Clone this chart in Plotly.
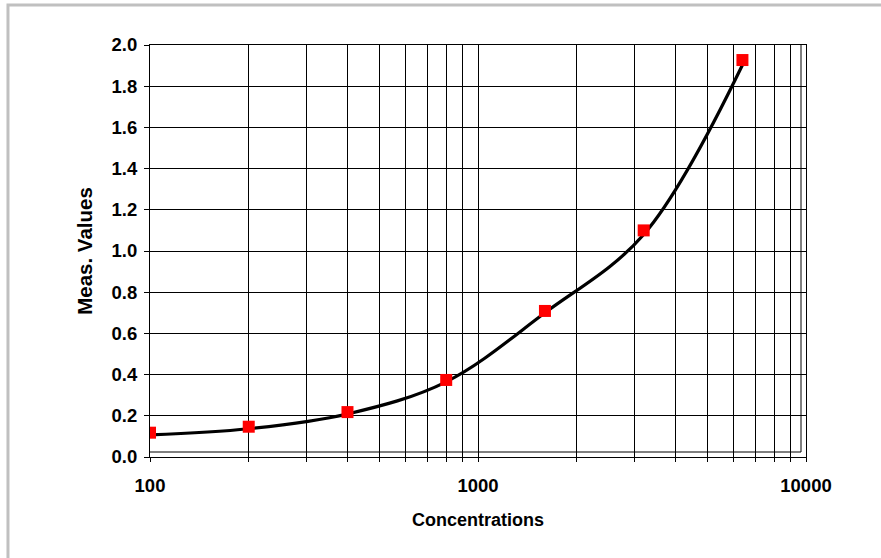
import plotly.graph_objects as go

# Standard concentrations and measured responses
concentrations = [100, 200, 400, 800, 1600, 3200, 6400]
meas_values = [0.118, 0.147, 0.218, 0.374, 0.709, 1.100, 1.927]

# Calibration curve values at the same concentrations
fit_values = [0.107, 0.137, 0.209, 0.365, 0.700, 1.080, 1.903]

# Log-axis gridline positions and their labels
x_tickvals = [100, 200, 300, 400, 500, 600, 700, 800, 900,
              1000, 2000, 3000, 4000, 5000, 6000, 7000, 8000, 9000, 10000]
x_ticktext = ["100", "", "", "", "", "", "", "", "",
              "1000", "", "", "", "", "", "", "", "", "10000"]
y_tickvals = [0.0, 0.2, 0.4, 0.6, 0.8, 1.0, 1.2, 1.4, 1.6, 1.8, 2.0]

FONT = "Liberation Sans, Arial, sans-serif"

fig = go.Figure()

fig.add_trace(go.Scatter(
    x=concentrations, y=fit_values,
    mode="lines",
    line=dict(color="black", width=3.2, shape="spline", smoothing=1.0),
    hoverinfo="skip",
    showlegend=False,
))

fig.add_trace(go.Scatter(
    x=concentrations, y=meas_values,
    mode="markers",
    marker=dict(symbol="square", size=12, color="#ff0000", line=dict(width=0)),
    cliponaxis=True,
    showlegend=False,
))

axis_common = dict(
    showline=True, linecolor="black", linewidth=1, mirror=True,
    showgrid=True, gridcolor="black", gridwidth=1,
    zeroline=False,
    ticks="outside", tickcolor="black", tickwidth=1,
    tickfont=dict(family=FONT, size=18.5, color="black", weight="bold"),
)

fig.update_xaxes(
    type="log",
    range=[2, 4],
    tickmode="array", tickvals=x_tickvals, ticktext=x_ticktext,
    ticklen=4,
    ticklabelstandoff=8,
    title=dict(text="Concentrations",
               font=dict(family=FONT, size=18, color="black", weight="bold"),
               standoff=18),
    **axis_common,
)

fig.update_yaxes(
    range=[0, 2.0],
    tickmode="array", tickvals=y_tickvals,
    tickformat=".1f",
    ticklen=5,
    ticklabelstandoff=3,
    title=dict(text="Meas. Values",
               font=dict(family=FONT, size=20.5, color="black", weight="bold"),
               standoff=13),
    **axis_common,
)

# Inner plot-area frame, offset slightly from the axis lines
fig.add_shape(type="line", xref="paper", yref="paper",
              x0=0, x1=0.9924, y0=0.0121, y1=0.0121,
              line=dict(color="black", width=1))
fig.add_shape(type="line", xref="paper", yref="paper",
              x0=0.9924, x1=0.9924, y0=0.0121, y1=1,
              line=dict(color="black", width=1))

# Outer chart border (gray)
fig.add_shape(type="rect", xref="paper", yref="paper",
              x0=-0.2165, x1=1.2, y0=-0.5, y1=1.097,
              line=dict(color="#c0c0c0", width=3), layer="below")

fig.update_layout(
    width=881, height=558,
    margin=dict(l=150, r=75, t=45, b=101),
    paper_bgcolor="white", plot_bgcolor="white",
    font=dict(family=FONT, color="black"),
)

fig.write_html("out.html")
